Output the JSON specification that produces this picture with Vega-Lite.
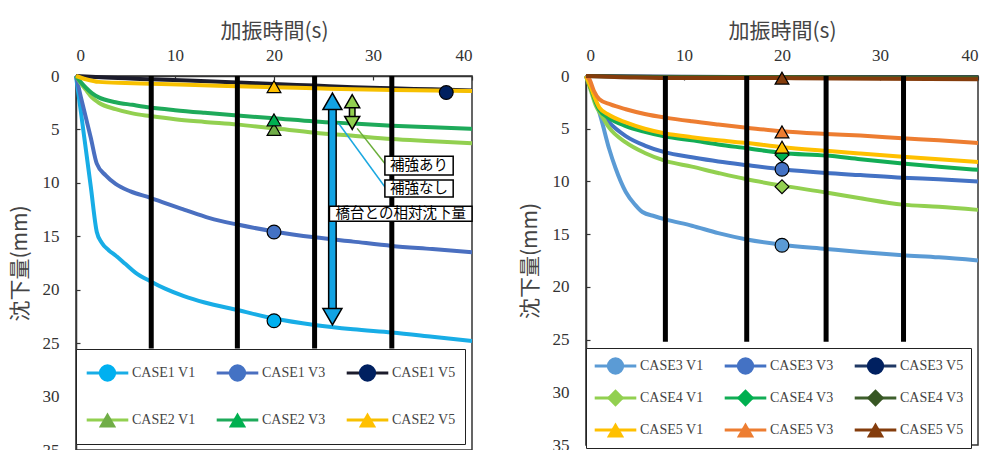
{
  "$schema": "https://vega.github.io/schema/vega-lite/v6.json",
  "padding": {"left": 8, "top": 19, "right": 0, "bottom": 0},
  "spacing": 37,
  "config": {
    "view": {"stroke": "#333", "strokeWidth": 1.5},
    "axis": {"grid": false, "domainColor": "#333", "domainWidth": 1.5, "tickColor": "#333", "tickSize": -4, "tickWidth": 1.2,
      "labelFont": "Liberation Serif", "labelFontSize": 17, "labelColor": "#333",
      "titleFont": "Noto Sans CJK JP", "titleFontSize": 21, "titleFontWeight": "normal", "titleColor": "#444"},
    "axisX": {"labelPadding": 16, "titlePadding": 5},
    "axisY": {"labelPadding": 21, "titlePadding": 12},
    "legend": {"labelFont": "Liberation Serif", "labelFontSize": 14, "labelColor": "#444", "title": null, "direction": "horizontal", "gridAlign": "all"}
  },
  "resolve": {
    "scale": {"stroke": "independent", "fill": "independent", "shape": "independent"},
    "legend": {"stroke": "independent", "fill": "independent", "shape": "independent"}
  },
  "hconcat": [
    {
      "width": 396,
      "height": 374,
      "layer": [
        {
          "data": {"values": [
            {"series": "CASE1 V1", "t": 0, "s": 0}, {"series": "CASE1 V1", "t": 0.5, "s": 3.4}, {"series": "CASE1 V1", "t": 1, "s": 6.9}, {"series": "CASE1 V1", "t": 1.5, "s": 10.4}, {"series": "CASE1 V1", "t": 2.1, "s": 14.6}, {"series": "CASE1 V1", "t": 2.6, "s": 15.6}, {"series": "CASE1 V1", "t": 3.3, "s": 16.3}, {"series": "CASE1 V1", "t": 4, "s": 16.8}, {"series": "CASE1 V1", "t": 5, "s": 17.6}, {"series": "CASE1 V1", "t": 6, "s": 18.4}, {"series": "CASE1 V1", "t": 7.5, "s": 19.2}, {"series": "CASE1 V1", "t": 9, "s": 19.9}, {"series": "CASE1 V1", "t": 10.9, "s": 20.6}, {"series": "CASE1 V1", "t": 13, "s": 21.2}, {"series": "CASE1 V1", "t": 16.3, "s": 21.9}, {"series": "CASE1 V1", "t": 20, "s": 22.7}, {"series": "CASE1 V1", "t": 24.1, "s": 23.3}, {"series": "CASE1 V1", "t": 28, "s": 23.7}, {"series": "CASE1 V1", "t": 31.9, "s": 24.0}, {"series": "CASE1 V1", "t": 36, "s": 24.4}, {"series": "CASE1 V1", "t": 40, "s": 24.8},
            {"series": "CASE1 V3", "t": 0, "s": 0}, {"series": "CASE1 V3", "t": 0.5, "s": 2.0}, {"series": "CASE1 V3", "t": 1, "s": 3.9}, {"series": "CASE1 V3", "t": 1.5, "s": 5.8}, {"series": "CASE1 V3", "t": 2.1, "s": 8.2}, {"series": "CASE1 V3", "t": 3, "s": 9.3}, {"series": "CASE1 V3", "t": 4, "s": 10.1}, {"series": "CASE1 V3", "t": 5.5, "s": 10.8}, {"series": "CASE1 V3", "t": 7.5, "s": 11.4}, {"series": "CASE1 V3", "t": 9, "s": 11.9}, {"series": "CASE1 V3", "t": 10.9, "s": 12.5}, {"series": "CASE1 V3", "t": 13.5, "s": 13.3}, {"series": "CASE1 V3", "t": 16.3, "s": 13.9}, {"series": "CASE1 V3", "t": 20, "s": 14.55}, {"series": "CASE1 V3", "t": 24.1, "s": 15.1}, {"series": "CASE1 V3", "t": 28, "s": 15.5}, {"series": "CASE1 V3", "t": 31.9, "s": 15.9}, {"series": "CASE1 V3", "t": 36, "s": 16.2}, {"series": "CASE1 V3", "t": 40, "s": 16.5},
            {"series": "CASE1 V5", "t": 0, "s": 0}, {"series": "CASE1 V5", "t": 3, "s": 0.15}, {"series": "CASE1 V5", "t": 7.6, "s": 0.3}, {"series": "CASE1 V5", "t": 12, "s": 0.45}, {"series": "CASE1 V5", "t": 16.3, "s": 0.6}, {"series": "CASE1 V5", "t": 20, "s": 0.75}, {"series": "CASE1 V5", "t": 24.1, "s": 0.9}, {"series": "CASE1 V5", "t": 28, "s": 1.05}, {"series": "CASE1 V5", "t": 31.9, "s": 1.15}, {"series": "CASE1 V5", "t": 36, "s": 1.25}, {"series": "CASE1 V5", "t": 40, "s": 1.35},
            {"series": "CASE2 V1", "t": 0, "s": 0}, {"series": "CASE2 V1", "t": 0.5, "s": 0.7}, {"series": "CASE2 V1", "t": 1, "s": 1.3}, {"series": "CASE2 V1", "t": 1.6, "s": 2.0}, {"series": "CASE2 V1", "t": 2.3, "s": 2.5}, {"series": "CASE2 V1", "t": 4, "s": 3.1}, {"series": "CASE2 V1", "t": 5.7, "s": 3.5}, {"series": "CASE2 V1", "t": 7.5, "s": 3.75}, {"series": "CASE2 V1", "t": 10, "s": 4.05}, {"series": "CASE2 V1", "t": 13, "s": 4.3}, {"series": "CASE2 V1", "t": 16.3, "s": 4.55}, {"series": "CASE2 V1", "t": 20, "s": 4.9}, {"series": "CASE2 V1", "t": 24.1, "s": 5.3}, {"series": "CASE2 V1", "t": 28, "s": 5.6}, {"series": "CASE2 V1", "t": 31.9, "s": 5.9}, {"series": "CASE2 V1", "t": 36, "s": 6.1}, {"series": "CASE2 V1", "t": 40, "s": 6.3},
            {"series": "CASE2 V3", "t": 0, "s": 0}, {"series": "CASE2 V3", "t": 0.5, "s": 0.6}, {"series": "CASE2 V3", "t": 1, "s": 1.1}, {"series": "CASE2 V3", "t": 1.6, "s": 1.6}, {"series": "CASE2 V3", "t": 2.3, "s": 2.0}, {"series": "CASE2 V3", "t": 4, "s": 2.45}, {"series": "CASE2 V3", "t": 5.7, "s": 2.7}, {"series": "CASE2 V3", "t": 7.5, "s": 2.95}, {"series": "CASE2 V3", "t": 10, "s": 3.2}, {"series": "CASE2 V3", "t": 13, "s": 3.45}, {"series": "CASE2 V3", "t": 16.3, "s": 3.7}, {"series": "CASE2 V3", "t": 20, "s": 3.95}, {"series": "CASE2 V3", "t": 24.1, "s": 4.25}, {"series": "CASE2 V3", "t": 28, "s": 4.45}, {"series": "CASE2 V3", "t": 31.9, "s": 4.65}, {"series": "CASE2 V3", "t": 36, "s": 4.8}, {"series": "CASE2 V3", "t": 40, "s": 4.95},
            {"series": "CASE2 V5", "t": 0, "s": 0}, {"series": "CASE2 V5", "t": 1, "s": 0.3}, {"series": "CASE2 V5", "t": 2.3, "s": 0.55}, {"series": "CASE2 V5", "t": 5, "s": 0.65}, {"series": "CASE2 V5", "t": 7.6, "s": 0.72}, {"series": "CASE2 V5", "t": 12, "s": 0.85}, {"series": "CASE2 V5", "t": 16.3, "s": 0.95}, {"series": "CASE2 V5", "t": 20, "s": 1.05}, {"series": "CASE2 V5", "t": 24.1, "s": 1.15}, {"series": "CASE2 V5", "t": 28, "s": 1.25}, {"series": "CASE2 V5", "t": 31.9, "s": 1.3}, {"series": "CASE2 V5", "t": 36, "s": 1.35}, {"series": "CASE2 V5", "t": 40, "s": 1.4}
          ]},
          "mark": {"type": "line", "strokeWidth": 4, "interpolate": "monotone"},
          "encoding": {
            "x": {"field": "t", "type": "quantitative", "scale": {"domain": [0, 40]}, "axis": {"orient": "top", "values": [0, 10, 20, 30, 40], "title": "加振時間(s)"}},
            "y": {"field": "s", "type": "quantitative", "scale": {"domain": [0, 35], "reverse": true}, "axis": {"values": [0, 5, 10, 15, 20, 25, 30, 35], "title": "沈下量(mm)"}},
            "stroke": {"field": "series", "type": "nominal",
              "scale": {"range": ["#18ADE6", "#4A6FC0", "#1C1C2C", "#92D050", "#1EAA5A", "#F7C000"]},
              "legend": {"orient": "none", "legendX": 0, "legendY": 273, "columns": 3, "symbolType": "M-2.6,0H2.6", "symbolSize": 256, "symbolStrokeWidth": 3, "symbolOffset": 13, "clipHeight": 30, "rowPadding": 17, "columnPadding": 19, "labelOffset": 15, "padding": 9, "fillColor": "white", "strokeColor": "#222"}}
          }
        },
        {
          "data": {"values": [
            {"series": "CASE1 V1", "t": 20, "s": 22.9}, {"series": "CASE1 V3", "t": 20, "s": 14.6}, {"series": "CASE1 V5", "t": 37.4, "s": 1.55},
            {"series": "CASE2 V1", "t": 20, "s": 5.0}, {"series": "CASE2 V3", "t": 20, "s": 4.1}, {"series": "CASE2 V5", "t": 20, "s": 1.0}
          ]},
          "mark": {"type": "point", "filled": true, "size": 190, "stroke": "black", "strokeWidth": 1.2, "opacity": 1},
          "encoding": {
            "x": {"field": "t", "type": "quantitative"},
            "y": {"field": "s", "type": "quantitative"},
            "fill": {"field": "series", "type": "nominal",
              "scale": {"domain": ["CASE1 V1", "CASE1 V3", "CASE1 V5", "CASE2 V1", "CASE2 V3", "CASE2 V5"], "range": ["#00B0F0", "#4472C4", "#002060", "#70AD47", "#00B050", "#FFC000"]},
              "legend": {"orient": "none", "legendX": 0, "legendY": 273, "columns": 3, "symbolSize": 300, "symbolStrokeColor": "black", "symbolStrokeWidth": 1.5, "symbolOffset": 13, "clipHeight": 30, "rowPadding": 17, "columnPadding": 19, "labelOffset": 15, "padding": 9, "labelOpacity": 0}},
            "shape": {"field": "series", "type": "nominal",
              "scale": {"domain": ["CASE1 V1", "CASE1 V3", "CASE1 V5", "CASE2 V1", "CASE2 V3", "CASE2 V5"], "range": ["circle", "circle", "circle", "triangle-up", "triangle-up", "triangle-up"]},
              "legend": {"orient": "none", "legendX": 0, "legendY": 273, "columns": 3, "symbolSize": 300, "symbolStrokeColor": "black", "symbolStrokeWidth": 1.5, "symbolOffset": 13, "clipHeight": 30, "rowPadding": 17, "columnPadding": 19, "labelOffset": 15, "padding": 9, "labelOpacity": 0}}
          }
        },
        {
          "data": {"values": [{"t": 7.6}, {"t": 16.3}, {"t": 24.1}, {"t": 31.9}]},
          "mark": {"type": "rule", "color": "black", "strokeWidth": 5},
          "encoding": {"x": {"field": "t", "type": "quantitative"}, "y": {"datum": 0}, "y2": {"datum": 25.5}}
        },
        {
          "data": {"values": [{"t": 26.5, "s": 4.4, "t2": 31.3, "s2": 10.5}]},
          "mark": {"type": "rule", "color": "#1BA8E0", "strokeWidth": 1.5},
          "encoding": {"x": {"field": "t", "type": "quantitative"}, "y": {"field": "s", "type": "quantitative"}, "x2": {"field": "t2"}, "y2": {"field": "s2"}}
        },
        {
          "data": {"values": [{"t": 28.4, "s": 4.9, "t2": 31.3, "s2": 8.3}]},
          "mark": {"type": "rule", "color": "#6AAE3A", "strokeWidth": 1.5},
          "encoding": {"x": {"field": "t", "type": "quantitative"}, "y": {"field": "s", "type": "quantitative"}, "x2": {"field": "t2"}, "y2": {"field": "s2"}}
        },
        {
          "data": {"values": [{"t": 25.9, "s": 2.4, "s2": 22.5}]},
          "mark": {"type": "rule", "color": "black", "strokeWidth": 9},
          "encoding": {"x": {"field": "t", "type": "quantitative"}, "y": {"field": "s", "type": "quantitative"}, "y2": {"field": "s2"}}
        },
        {
          "data": {"values": [{"t": 25.9, "s": 2.4, "s2": 22.5}]},
          "mark": {"type": "rule", "color": "#12A3E3", "strokeWidth": 6},
          "encoding": {"x": {"field": "t", "type": "quantitative"}, "y": {"field": "s", "type": "quantitative"}, "y2": {"field": "s2"}}
        },
        {
          "data": {"values": [{"t": 25.9, "s": 2.37}]},
          "mark": {"type": "point", "shape": "triangle-up", "filled": true, "size": 360, "fill": "#12A3E3", "stroke": "black", "strokeWidth": 1.5, "opacity": 1},
          "encoding": {"x": {"field": "t", "type": "quantitative"}, "y": {"field": "s", "type": "quantitative"}}
        },
        {
          "data": {"values": [{"t": 25.9, "s": 22.53}]},
          "mark": {"type": "point", "shape": "triangle-down", "filled": true, "size": 360, "fill": "#12A3E3", "stroke": "black", "strokeWidth": 1.5, "opacity": 1},
          "encoding": {"x": {"field": "t", "type": "quantitative"}, "y": {"field": "s", "type": "quantitative"}}
        },
        {
          "data": {"values": [{"t": 27.9, "s": 2.4, "s2": 4.35}]},
          "mark": {"type": "rule", "color": "black", "strokeWidth": 7},
          "encoding": {"x": {"field": "t", "type": "quantitative"}, "y": {"field": "s", "type": "quantitative"}, "y2": {"field": "s2"}}
        },
        {
          "data": {"values": [{"t": 27.9, "s": 2.4, "s2": 4.35}]},
          "mark": {"type": "rule", "color": "#92D050", "strokeWidth": 4},
          "encoding": {"x": {"field": "t", "type": "quantitative"}, "y": {"field": "s", "type": "quantitative"}, "y2": {"field": "s2"}}
        },
        {
          "data": {"values": [{"t": 27.9, "s": 2.36}]},
          "mark": {"type": "point", "shape": "triangle-up", "filled": true, "size": 225, "fill": "#92D050", "stroke": "black", "strokeWidth": 1.5, "opacity": 1},
          "encoding": {"x": {"field": "t", "type": "quantitative"}, "y": {"field": "s", "type": "quantitative"}}
        },
        {
          "data": {"values": [{"t": 27.9, "s": 4.39}]},
          "mark": {"type": "point", "shape": "triangle-down", "filled": true, "size": 225, "fill": "#92D050", "stroke": "black", "strokeWidth": 1.5, "opacity": 1},
          "encoding": {"x": {"field": "t", "type": "quantitative"}, "y": {"field": "s", "type": "quantitative"}}
        },
        {
          "data": {"values": [
            {"label": "補強あり", "t": 31.2, "t2": 38.1, "s": 7.5, "s2": 9.27, "tc": 34.65, "sc": 8.4},
            {"label": "補強なし", "t": 31.2, "t2": 38.1, "s": 9.74, "s2": 11.33, "tc": 34.65, "sc": 10.55},
            {"label": "橋台との相対沈下量", "t": 25.6, "t2": 40.0, "s": 12.2, "s2": 13.6, "tc": 32.8, "sc": 12.9}
          ]},
          "layer": [
            {"mark": {"type": "rect", "fill": "white", "stroke": "black", "strokeWidth": 1.5},
             "encoding": {"x": {"field": "t", "type": "quantitative"}, "x2": {"field": "t2"}, "y": {"field": "s", "type": "quantitative"}, "y2": {"field": "s2"}}},
            {"mark": {"type": "text", "font": "Noto Sans CJK JP", "fontSize": 14.5, "color": "black", "align": "center", "baseline": "middle"},
             "encoding": {"x": {"field": "tc", "type": "quantitative"}, "y": {"field": "sc", "type": "quantitative"}, "text": {"field": "label"}}}
          ]
        }
      ]
    },
    {
      "width": 392,
      "height": 369,
      "layer": [
        {
          "data": {"values": [
            {"series": "CASE3 V1", "t": 0, "s": 0}, {"series": "CASE3 V1", "t": 0.5, "s": 0.95}, {"series": "CASE3 V1", "t": 1, "s": 2.4}, {"series": "CASE3 V1", "t": 1.5, "s": 3.9}, {"series": "CASE3 V1", "t": 2.36, "s": 6.9}, {"series": "CASE3 V1", "t": 3, "s": 8.7}, {"series": "CASE3 V1", "t": 4.06, "s": 11.0}, {"series": "CASE3 V1", "t": 5, "s": 12.2}, {"series": "CASE3 V1", "t": 5.76, "s": 12.9}, {"series": "CASE3 V1", "t": 7, "s": 13.3}, {"series": "CASE3 V1", "t": 8.1, "s": 13.6}, {"series": "CASE3 V1", "t": 10.8, "s": 14.2}, {"series": "CASE3 V1", "t": 13.5, "s": 14.9}, {"series": "CASE3 V1", "t": 16.4, "s": 15.5}, {"series": "CASE3 V1", "t": 20, "s": 16.0}, {"series": "CASE3 V1", "t": 24.5, "s": 16.4}, {"series": "CASE3 V1", "t": 28, "s": 16.7}, {"series": "CASE3 V1", "t": 32.3, "s": 17.0}, {"series": "CASE3 V1", "t": 36, "s": 17.2}, {"series": "CASE3 V1", "t": 40, "s": 17.5},
            {"series": "CASE3 V3", "t": 0, "s": 0}, {"series": "CASE3 V3", "t": 0.5, "s": 1.2}, {"series": "CASE3 V3", "t": 1, "s": 2.5}, {"series": "CASE3 V3", "t": 1.5, "s": 3.4}, {"series": "CASE3 V3", "t": 2.36, "s": 4.4}, {"series": "CASE3 V3", "t": 4.06, "s": 5.7}, {"series": "CASE3 V3", "t": 6, "s": 6.6}, {"series": "CASE3 V3", "t": 8.1, "s": 7.25}, {"series": "CASE3 V3", "t": 10.8, "s": 7.7}, {"series": "CASE3 V3", "t": 13.5, "s": 8.1}, {"series": "CASE3 V3", "t": 16.4, "s": 8.45}, {"series": "CASE3 V3", "t": 20, "s": 8.85}, {"series": "CASE3 V3", "t": 24.5, "s": 9.2}, {"series": "CASE3 V3", "t": 28, "s": 9.4}, {"series": "CASE3 V3", "t": 32.3, "s": 9.65}, {"series": "CASE3 V3", "t": 36, "s": 9.8}, {"series": "CASE3 V3", "t": 40, "s": 10.0},
            {"series": "CASE3 V5", "t": 0, "s": 0}, {"series": "CASE3 V5", "t": 10, "s": 0.08}, {"series": "CASE3 V5", "t": 20, "s": 0.1}, {"series": "CASE3 V5", "t": 30, "s": 0.12}, {"series": "CASE3 V5", "t": 40, "s": 0.12},
            {"series": "CASE4 V1", "t": 0, "s": 0}, {"series": "CASE4 V1", "t": 0.5, "s": 1.4}, {"series": "CASE4 V1", "t": 1, "s": 2.8}, {"series": "CASE4 V1", "t": 1.5, "s": 3.6}, {"series": "CASE4 V1", "t": 2.36, "s": 4.9}, {"series": "CASE4 V1", "t": 4.06, "s": 6.3}, {"series": "CASE4 V1", "t": 6, "s": 7.3}, {"series": "CASE4 V1", "t": 8.1, "s": 8.05}, {"series": "CASE4 V1", "t": 10.8, "s": 8.6}, {"series": "CASE4 V1", "t": 13.5, "s": 9.2}, {"series": "CASE4 V1", "t": 16.4, "s": 9.8}, {"series": "CASE4 V1", "t": 20, "s": 10.4}, {"series": "CASE4 V1", "t": 24.5, "s": 11.05}, {"series": "CASE4 V1", "t": 28, "s": 11.6}, {"series": "CASE4 V1", "t": 32.3, "s": 12.2}, {"series": "CASE4 V1", "t": 36, "s": 12.4}, {"series": "CASE4 V1", "t": 40, "s": 12.7},
            {"series": "CASE4 V3", "t": 0, "s": 0}, {"series": "CASE4 V3", "t": 0.5, "s": 1.2}, {"series": "CASE4 V3", "t": 1, "s": 2.5}, {"series": "CASE4 V3", "t": 1.36, "s": 3.2}, {"series": "CASE4 V3", "t": 2.36, "s": 4.0}, {"series": "CASE4 V3", "t": 4.06, "s": 4.75}, {"series": "CASE4 V3", "t": 6, "s": 5.3}, {"series": "CASE4 V3", "t": 8.1, "s": 5.75}, {"series": "CASE4 V3", "t": 10.8, "s": 6.1}, {"series": "CASE4 V3", "t": 13.5, "s": 6.5}, {"series": "CASE4 V3", "t": 16.4, "s": 6.85}, {"series": "CASE4 V3", "t": 20, "s": 7.3}, {"series": "CASE4 V3", "t": 24.5, "s": 7.55}, {"series": "CASE4 V3", "t": 28, "s": 7.9}, {"series": "CASE4 V3", "t": 32.3, "s": 8.3}, {"series": "CASE4 V3", "t": 36, "s": 8.6}, {"series": "CASE4 V3", "t": 40, "s": 8.9},
            {"series": "CASE4 V5", "t": 0, "s": 0}, {"series": "CASE4 V5", "t": 10, "s": 0.1}, {"series": "CASE4 V5", "t": 20, "s": 0.1}, {"series": "CASE4 V5", "t": 30, "s": 0.15}, {"series": "CASE4 V5", "t": 40, "s": 0.15},
            {"series": "CASE5 V1", "t": 0, "s": 0}, {"series": "CASE5 V1", "t": 0.5, "s": 1.1}, {"series": "CASE5 V1", "t": 1, "s": 2.3}, {"series": "CASE5 V1", "t": 1.36, "s": 3.0}, {"series": "CASE5 V1", "t": 2.36, "s": 3.7}, {"series": "CASE5 V1", "t": 4.06, "s": 4.4}, {"series": "CASE5 V1", "t": 6, "s": 5.0}, {"series": "CASE5 V1", "t": 8.1, "s": 5.45}, {"series": "CASE5 V1", "t": 10.8, "s": 5.8}, {"series": "CASE5 V1", "t": 13.5, "s": 6.1}, {"series": "CASE5 V1", "t": 16.4, "s": 6.35}, {"series": "CASE5 V1", "t": 20, "s": 6.75}, {"series": "CASE5 V1", "t": 24.5, "s": 7.1}, {"series": "CASE5 V1", "t": 28, "s": 7.35}, {"series": "CASE5 V1", "t": 32.3, "s": 7.65}, {"series": "CASE5 V1", "t": 36, "s": 7.9}, {"series": "CASE5 V1", "t": 40, "s": 8.15},
            {"series": "CASE5 V3", "t": 0, "s": 0}, {"series": "CASE5 V3", "t": 0.34, "s": 0.3}, {"series": "CASE5 V3", "t": 0.8, "s": 1.4}, {"series": "CASE5 V3", "t": 1.36, "s": 2.2}, {"series": "CASE5 V3", "t": 2.5, "s": 2.7}, {"series": "CASE5 V3", "t": 4.06, "s": 3.15}, {"series": "CASE5 V3", "t": 6, "s": 3.6}, {"series": "CASE5 V3", "t": 8.1, "s": 3.95}, {"series": "CASE5 V3", "t": 10.8, "s": 4.3}, {"series": "CASE5 V3", "t": 13.5, "s": 4.6}, {"series": "CASE5 V3", "t": 16.4, "s": 4.9}, {"series": "CASE5 V3", "t": 20, "s": 5.25}, {"series": "CASE5 V3", "t": 24.5, "s": 5.5}, {"series": "CASE5 V3", "t": 28, "s": 5.65}, {"series": "CASE5 V3", "t": 32.3, "s": 5.9}, {"series": "CASE5 V3", "t": 36, "s": 6.1}, {"series": "CASE5 V3", "t": 40, "s": 6.35},
            {"series": "CASE5 V5", "t": 0, "s": 0}, {"series": "CASE5 V5", "t": 5, "s": 0.15}, {"series": "CASE5 V5", "t": 10, "s": 0.2}, {"series": "CASE5 V5", "t": 20, "s": 0.2}, {"series": "CASE5 V5", "t": 30, "s": 0.25}, {"series": "CASE5 V5", "t": 40, "s": 0.3}
          ]},
          "mark": {"type": "line", "strokeWidth": 4, "interpolate": "monotone"},
          "encoding": {
            "x": {"field": "t", "type": "quantitative", "scale": {"domain": [0, 40]}, "axis": {"orient": "top", "values": [0, 10, 20, 30, 40], "title": "加振時間(s)"}},
            "y": {"field": "s", "type": "quantitative", "scale": {"domain": [0, 35], "reverse": true}, "axis": {"values": [0, 5, 10, 15, 20, 25, 30, 35], "title": "沈下量(mm)"}},
            "stroke": {"field": "series", "type": "nominal",
              "scale": {"range": ["#5B9BD5", "#4472C4", "#1F3864", "#92D050", "#12AD55", "#3E5F2C", "#FFC000", "#ED7D31", "#843C0C"]},
              "legend": {"orient": "none", "legendX": 0, "legendY": 272, "columns": 3, "symbolType": "M-2.6,0H2.6", "symbolSize": 256, "symbolStrokeWidth": 3, "symbolOffset": 13, "clipHeight": 22, "rowPadding": 10, "columnPadding": 19, "labelOffset": 15, "padding": 7, "fillColor": "white", "strokeColor": "#222",
                "labelExpr": "datum.label == 'CASE4 V5' ? 'CASE4 V3' : datum.label"}}
          }
        },
        {
          "data": {"values": [
            {"series": "CASE3 V1", "t": 20, "s": 16.05}, {"series": "CASE3 V3", "t": 20, "s": 8.85},
            {"series": "CASE4 V1", "t": 20, "s": 10.5}, {"series": "CASE4 V3", "t": 20, "s": 7.5},
            {"series": "CASE5 V1", "t": 20, "s": 6.75}, {"series": "CASE5 V3", "t": 20, "s": 5.3}, {"series": "CASE5 V5", "t": 20, "s": 0.2}
          ]},
          "mark": {"type": "point", "filled": true, "size": 190, "stroke": "black", "strokeWidth": 1.2, "opacity": 1},
          "encoding": {
            "x": {"field": "t", "type": "quantitative"},
            "y": {"field": "s", "type": "quantitative"},
            "fill": {"field": "series", "type": "nominal",
              "scale": {"domain": ["CASE3 V1", "CASE3 V3", "CASE3 V5", "CASE4 V1", "CASE4 V3", "CASE4 V5", "CASE5 V1", "CASE5 V3", "CASE5 V5"], "range": ["#5B9BD5", "#4472C4", "#002060", "#92D050", "#00B050", "#375623", "#FFC000", "#ED7D31", "#843C0C"]},
              "legend": {"orient": "none", "legendX": 0, "legendY": 272, "columns": 3, "symbolSize": 300, "symbolStrokeColor": "black", "symbolStrokeWidth": 1.5, "symbolOffset": 13, "clipHeight": 22, "rowPadding": 10, "columnPadding": 19, "labelOffset": 15, "padding": 7, "labelOpacity": 0,
                "labelExpr": "datum.label == 'CASE4 V5' ? 'CASE4 V3' : datum.label"}},
            "shape": {"field": "series", "type": "nominal",
              "scale": {"domain": ["CASE3 V1", "CASE3 V3", "CASE3 V5", "CASE4 V1", "CASE4 V3", "CASE4 V5", "CASE5 V1", "CASE5 V3", "CASE5 V5"], "range": ["circle", "circle", "circle", "diamond", "diamond", "diamond", "triangle-up", "triangle-up", "triangle-up"]},
              "legend": {"orient": "none", "legendX": 0, "legendY": 272, "columns": 3, "symbolSize": 300, "symbolStrokeColor": "black", "symbolStrokeWidth": 1.5, "symbolOffset": 13, "clipHeight": 22, "rowPadding": 10, "columnPadding": 19, "labelOffset": 15, "padding": 7, "labelOpacity": 0,
                "labelExpr": "datum.label == 'CASE4 V5' ? 'CASE4 V3' : datum.label"}}
          }
        },
        {
          "data": {"values": [{"t": 8.1}, {"t": 16.4}, {"t": 24.5}, {"t": 32.4}]},
          "mark": {"type": "rule", "color": "black", "strokeWidth": 5},
          "encoding": {"x": {"field": "t", "type": "quantitative"}, "y": {"datum": 0}, "y2": {"datum": 25.2}}
        }
      ]
    }
  ]
}
